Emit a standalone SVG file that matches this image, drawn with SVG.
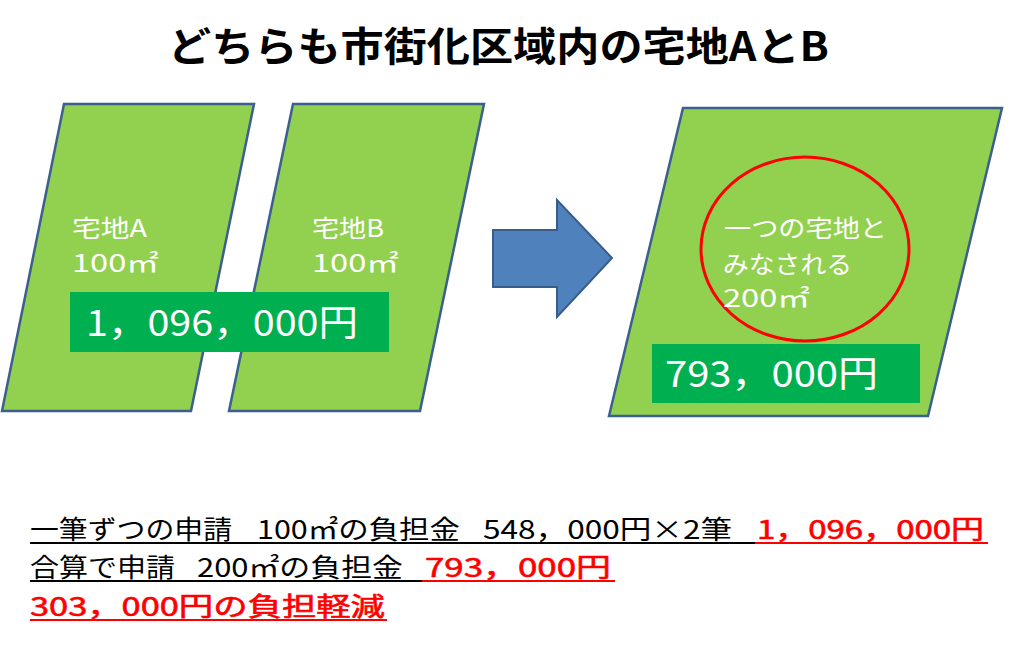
<svg xmlns="http://www.w3.org/2000/svg" width="1024" height="669" viewBox="0 0 1024 669">
<style>
.lot{fill:#92D050;stroke:#3B5F8E;stroke-width:2.5;stroke-linejoin:miter}
.box{fill:#00B050}
.wt{fill:#FFFFFF;font-family:"Noto Sans CJK JP","Noto Sans",sans-serif;font-size:24px}
.big{fill:#FFFFFF;font-family:"Noto Sans CJK JP","Noto Sans",sans-serif;font-size:36px}
.ttl{fill:#000000;font-family:"Noto Sans CJK JP","Noto Sans",sans-serif;font-size:40px;font-weight:bold}
.sm{font-family:"Noto Sans CJK JP","Noto Sans",sans-serif;font-size:26px}
.blk{fill:#000000}
.red{fill:#FF0000}
.redb{fill:#FF0000;stroke:#FF0000;stroke-width:0.6}
.ulb{stroke:#000000;stroke-width:2}
.ulr{stroke:#FF0000;stroke-width:2}
</style>
<rect width="1024" height="669" fill="#FFFFFF"/>
<g id="title">
<text class="ttl" x="168" y="61" textLength="661" lengthAdjust="spacingAndGlyphs">どちらも市街化区域内の宅地AとB</text>
</g>
<g id="lotA">
<polygon class="lot" points="64,104 254,104 191,411 2,411"/>
<text class="wt" x="72" y="237" textLength="75" lengthAdjust="spacingAndGlyphs">宅地A</text>
<text class="wt" x="72" y="272" textLength="87" lengthAdjust="spacingAndGlyphs">100㎡</text>
</g>
<g id="lotB">
<polygon class="lot" points="293,104 484,104 420,411 229,411"/>
<text class="wt" x="312" y="237" textLength="72" lengthAdjust="spacingAndGlyphs">宅地B</text>
<text class="wt" x="312" y="272" textLength="87" lengthAdjust="spacingAndGlyphs">100㎡</text>
</g>
<g id="costAB">
<rect class="box" x="70" y="292" width="319" height="60"/>
<text class="big" x="86" y="336" textLength="272" lengthAdjust="spacingAndGlyphs">1，096，000円</text>
</g>
<g id="connectors">
<polygon points="493,230 557,230 557,200 612,258 557,317 557,287 493,287" fill="#4F81BD" stroke="#385D8A" stroke-width="2"/>
</g>
<g id="lotMerged">
<polygon class="lot" points="683,108 1002,108 928,416 609,416"/>
<ellipse cx="805" cy="249" rx="104" ry="92" fill="none" stroke="#FF0000" stroke-width="3"/>
<text class="wt" x="724" y="237" textLength="163" lengthAdjust="spacingAndGlyphs">一つの宅地と</text>
<text class="wt" x="723" y="273" textLength="129" lengthAdjust="spacingAndGlyphs">みなされる</text>
<text class="wt" x="723" y="307" textLength="87" lengthAdjust="spacingAndGlyphs">200㎡</text>
<rect class="box" x="652" y="344" width="268" height="59"/>
<text class="big" x="665" y="387" textLength="213" lengthAdjust="spacingAndGlyphs">793，000円</text>
</g>
<g id="summary">
<text class="sm" y="539">
<tspan class="blk" x="30" textLength="202" lengthAdjust="spacingAndGlyphs">一筆ずつの申請</tspan>
<tspan class="blk" x="257" textLength="203" lengthAdjust="spacingAndGlyphs">100㎡の負担金</tspan>
<tspan class="blk" x="483" textLength="249" lengthAdjust="spacingAndGlyphs">548，000円×2筆</tspan>
<tspan class="redb" x="757" textLength="227" lengthAdjust="spacingAndGlyphs">1，096，000円</tspan>
</text>
<line class="ulb" x1="30" y1="543" x2="755" y2="543"/>
<line class="ulr" x1="755" y1="543" x2="988" y2="543"/>
<text class="sm" y="577">
<tspan class="blk" x="30" textLength="145" lengthAdjust="spacingAndGlyphs">合算で申請</tspan>
<tspan class="blk" x="197" textLength="206" lengthAdjust="spacingAndGlyphs">200㎡の負担金</tspan>
<tspan class="redb" x="425" textLength="186" lengthAdjust="spacingAndGlyphs">793，000円</tspan>
</text>
<line class="ulb" x1="30" y1="581" x2="422" y2="581"/>
<line class="ulr" x1="422" y1="581" x2="615" y2="581"/>
<text class="sm redb" x="30" y="616" textLength="355" lengthAdjust="spacingAndGlyphs">303，000円の負担軽減</text>
<line class="ulr" x1="30" y1="620" x2="387" y2="620"/>
</g>
</svg>
